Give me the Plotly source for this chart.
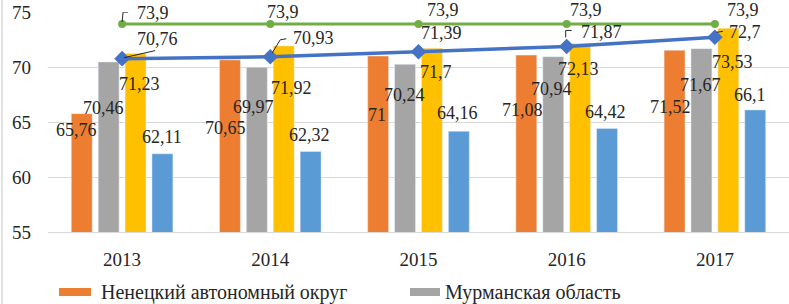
import plotly.graph_objects as go

# ---- data ----
years = ["2013", "2014", "2015", "2016", "2017"]
nenets = [65.76, 70.65, 71, 71.08, 71.52]
murmansk = [70.46, 69.97, 70.24, 70.94, 71.67]
yellow_series = [71.23, 71.92, 71.7, 72.13, 73.53]
blue_series = [62.11, 62.32, 64.16, 64.42, 66.1]
green_line = [73.9, 73.9, 73.9, 73.9, 73.9]
blue_line = [70.76, 70.93, 71.39, 71.87, 72.7]

name_nenets = "Ненецкий автономный округ"
name_murmansk = "Мурманская область"

# ---- style ----
W, H = 789, 304
ML, MR, MT, MB = 48, 0, 12, 72
PW, PH = W - ML - MR, H - MT - MB
FONT = "Liberation Serif, Times New Roman, serif"
TXT = "#262626"
BARGAP, GROUPGAP = 0.274, 0.222
colors = ["#ED7D31", "#A5A5A5", "#FFC000", "#5B9BD5"]

def fmt(v):
    return f"{v:g}".replace(".", ",")

def px2paper_x(px):
    return (px - ML) / PW

def px2paper_y(py):
    return (MT + PH - py) / PH

fig = go.Figure()
bar_series = [nenets, murmansk, yellow_series, blue_series]
bar_names = [name_nenets, name_murmansk, "", ""]
for vals, c, n in zip(bar_series, colors, bar_names):
    fig.add_trace(go.Bar(x=years, y=vals, marker_color=c, name=n,
                         showlegend=False, hoverinfo="x+y"))

fig.add_trace(go.Scatter(x=years, y=green_line, mode="lines+markers",
                         line=dict(color="#70AD47", width=3),
                         marker=dict(symbol="circle", size=8, color="#70AD47"),
                         showlegend=False, hoverinfo="x+y"))
fig.add_trace(go.Scatter(x=years, y=blue_line, mode="lines+markers",
                         line=dict(color="#4472C4", width=3.5),
                         marker=dict(symbol="diamond", size=12, color="#4472C4"),
                         showlegend=False, hoverinfo="x+y"))

# ---- data labels (pixel offsets dx, dy-down from the point) ----
bar_label_offsets = [
    [(-5, 16), (-4, 68), (-1, 59), (-4, 55), (-4, 57)],
    [(-5, 46), (-3, 40), (-1, 31), (-2, 32), (-1, 36)],
    [(4, 31), (8, 42), (4, 24), (-2, 25), (4, 34)],
    [(0, -17), (-1, -16), (-1, -18), (-2, -16), (-5, -15)],
]
green_offsets = [(31, -11), (13, -12), (24, -14), (19, -14), (28, -14)]
blue_line_offsets = [(35, -20), (43, -19), (23, -19), (35, -14), (30, -5)]

slot = (1 - BARGAP) / 4
annotations = []
for j, vals in enumerate(bar_series):
    off = -(1 - BARGAP) / 2 + slot * (j + 0.5)
    for i, v in enumerate(vals):
        dx, dy = bar_label_offsets[j][i]
        annotations.append(dict(x=i + off, y=v, xref="x", yref="y", text=fmt(v),
                                showarrow=False, xshift=dx, yshift=-dy,
                                font=dict(family=FONT, size=18, color=TXT)))
for vals, offs in [(green_line, green_offsets), (blue_line, blue_line_offsets)]:
    for i, v in enumerate(vals):
        dx, dy = offs[i]
        annotations.append(dict(x=i, y=v, xref="x", yref="y", text=fmt(v),
                                showarrow=False, xshift=dx, yshift=-dy,
                                font=dict(family=FONT, size=18, color=TXT)))

# leader lines (pixel segments anchored at data points, y up)
leaders = [
    (0, green_line[0], [((0, 2), (1, 12)), ((1, 12), (6, 12))]),
    (0, blue_line[0], [((2, 1), (33, 8))]),
    (1, blue_line[1], [((2, 4), (10, 17)), ((10, 17), (16, 18))]),
    (3, blue_line[3], [((-1, 9), (-1, 16)), ((-1, 16), (5, 16))]),
    (4, blue_line[4], [((2, 5), (8, 6))]),
]
shapes = []
for i, v, segs in leaders:
    for (x0, y0), (x1, y1) in segs:
        shapes.append(dict(type="line", xref="x", yref="y", xsizemode="pixel",
                           ysizemode="pixel", xanchor=i, yanchor=v,
                           x0=x0, x1=x1, y0=y0, y1=y1,
                           line=dict(color="#262626", width=1)))

# legend drawn manually (wide swatches)
legend_items = [(name_nenets, colors[0], 59, 91, 99),
                (name_murmansk, colors[1], 410, 440, 443)]
for name, c, sx0, sx1, tx in legend_items:
    shapes.append(dict(type="rect", xref="paper", yref="paper",
                       x0=px2paper_x(sx0), x1=px2paper_x(sx1),
                       y0=px2paper_y(296), y1=px2paper_y(288),
                       fillcolor=c, line=dict(width=0)))
    annotations.append(dict(x=px2paper_x(tx), y=px2paper_y(292), xref="paper",
                            yref="paper", xanchor="left", yanchor="middle",
                            text=name, showarrow=False,
                            font=dict(family=FONT, size=20, color=TXT)))

# chart-area border on the left edge
shapes.append(dict(type="line", xref="paper", yref="paper",
                   x0=px2paper_x(2), x1=px2paper_x(2),
                   y0=px2paper_y(0), y1=px2paper_y(H),
                   line=dict(color="#D9D9D9", width=1.5)))

fig.update_layout(
    width=W, height=H,
    margin=dict(l=ML, r=MR, t=MT, b=MB, autoexpand=False),
    paper_bgcolor="white", plot_bgcolor="white",
    barmode="group", bargap=BARGAP, bargroupgap=GROUPGAP,
    showlegend=False,
    font=dict(family=FONT, size=18, color=TXT),
    annotations=annotations, shapes=shapes,
    xaxis=dict(type="category", range=[-0.5, 4.5], showgrid=False,
               showline=True, linecolor="#D9D9D9", linewidth=1,
               ticks="", ticklabelstandoff=10, automargin=False,
               tickfont=dict(family=FONT, size=19, color=TXT)),
    yaxis=dict(range=[55, 75], dtick=5, tick0=55, showgrid=True,
               gridcolor="#D9D9D9", gridwidth=1, zeroline=False,
               showline=False, ticks="", ticklabelstandoff=16, automargin=False,
               tickfont=dict(family=FONT, size=19, color=TXT)),
)

fig.write_html("out.html",
               config={"displayModeBar": False},
               post_script="document.body.style.margin='0';"
                           "document.body.style.overflow='hidden';")
